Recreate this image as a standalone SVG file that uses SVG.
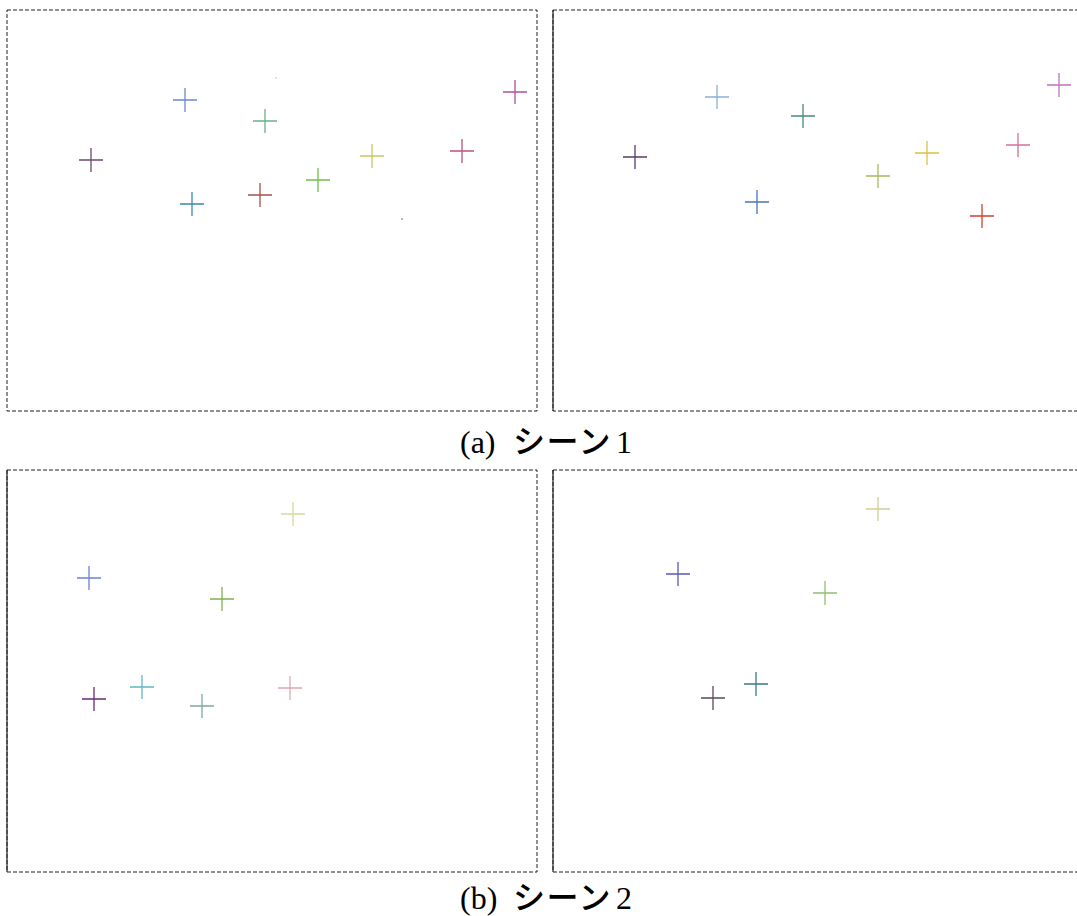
<svg xmlns="http://www.w3.org/2000/svg" xmlns:xlink="http://www.w3.org/1999/xlink" width="1077" height="916" viewBox="0 0 1077 916">
<style>
.frame{fill:none;stroke:#222;stroke-width:1;stroke-dasharray:4 2}
.edge{stroke:#222;stroke-width:1.2}
.cross use{fill:none;stroke-width:1.3}
.ser{font-family:"Liberation Serif","Times New Roman",serif;font-size:32px;fill:#000}
.jp{font-family:"Noto Sans CJK JP","Noto Sans CJK SC",sans-serif;font-size:32px;font-weight:500;letter-spacing:1.5px;fill:#000}
</style>
<defs>
<path id="x" d="M-12 0H12M0-12V12"/>
</defs>
<rect width="1077" height="916" fill="#fff"/>
<g id="panel-a-left">
<rect class="frame" x="7" y="10" width="530" height="401"/>
<g class="cross">
<use href="#x" x="91" y="160" stroke="#6b4c6b"/>
<use href="#x" x="185" y="100" stroke="#6a8cc8"/>
<use href="#x" x="265" y="121" stroke="#6ab08a"/>
<use href="#x" x="192" y="204" stroke="#3a8aa8"/>
<use href="#x" x="260" y="195" stroke="#a0524a"/>
<use href="#x" x="318" y="180" stroke="#6ec04a"/>
<use href="#x" x="372" y="156" stroke="#c8c860"/>
<use href="#x" x="462" y="151" stroke="#c05080"/>
<use href="#x" x="515" y="92" stroke="#b050a0"/>
</g>
<circle cx="276" cy="78" r="0.8" fill="#bbb"/>
<circle cx="402" cy="219" r="0.9" fill="#999"/>
</g>
<g id="panel-a-right">
<rect class="frame" x="553" y="10" width="530" height="401"/>
<line class="edge" x1="553" y1="10" x2="553" y2="411"/>
<g class="cross">
<use href="#x" x="635" y="157" stroke="#5a3a6a"/>
<use href="#x" x="717" y="97" stroke="#8ab0d8"/>
<use href="#x" x="803" y="116" stroke="#4a8a7a"/>
<use href="#x" x="757" y="202" stroke="#4a78b0"/>
<use href="#x" x="878" y="176" stroke="#a8b860"/>
<use href="#x" x="927" y="153" stroke="#e0c040"/>
<use href="#x" x="982" y="216" stroke="#d04030"/>
<use href="#x" x="1018" y="145" stroke="#d070a0"/>
<use href="#x" x="1059" y="85" stroke="#c070c0"/>
</g>
</g>
<g id="caption-a">
<text class="ser" x="460" y="453">(a)</text>
<text class="jp" x="513" y="453">シーン</text>
<text class="ser" x="616" y="453">1</text>
</g>
<g id="panel-b-left">
<rect class="frame" x="7" y="470" width="530" height="402"/>
<line class="edge" x1="7" y1="470" x2="7" y2="872"/>
<g class="cross">
<use href="#x" x="293" y="514" stroke="#d8d8a0"/>
<use href="#x" x="89" y="578" stroke="#7080d8"/>
<use href="#x" x="222" y="599" stroke="#80b050"/>
<use href="#x" x="94" y="699" stroke="#6a2a7a" stroke-width="2"/>
<use href="#x" x="142" y="687" stroke="#60b8c0"/>
<use href="#x" x="202" y="706" stroke="#80a8a0"/>
<use href="#x" x="290" y="688" stroke="#e0a8b0"/>
</g>
</g>
<g id="panel-b-right">
<rect class="frame" x="553" y="470" width="530" height="402"/>
<line class="edge" x1="553" y1="470" x2="553" y2="872"/>
<g class="cross">
<use href="#x" x="878" y="509" stroke="#d0d090"/>
<use href="#x" x="678" y="574" stroke="#5a5ab0"/>
<use href="#x" x="825" y="593" stroke="#90c070"/>
<use href="#x" x="713" y="698" stroke="#5a4a5a"/>
<use href="#x" x="756" y="684" stroke="#3a7a8a"/>
</g>
</g>
<g id="caption-b">
<text class="ser" x="460" y="909">(b)</text>
<text class="jp" x="513" y="909">シーン</text>
<text class="ser" x="616" y="909">2</text>
</g>
</svg>
